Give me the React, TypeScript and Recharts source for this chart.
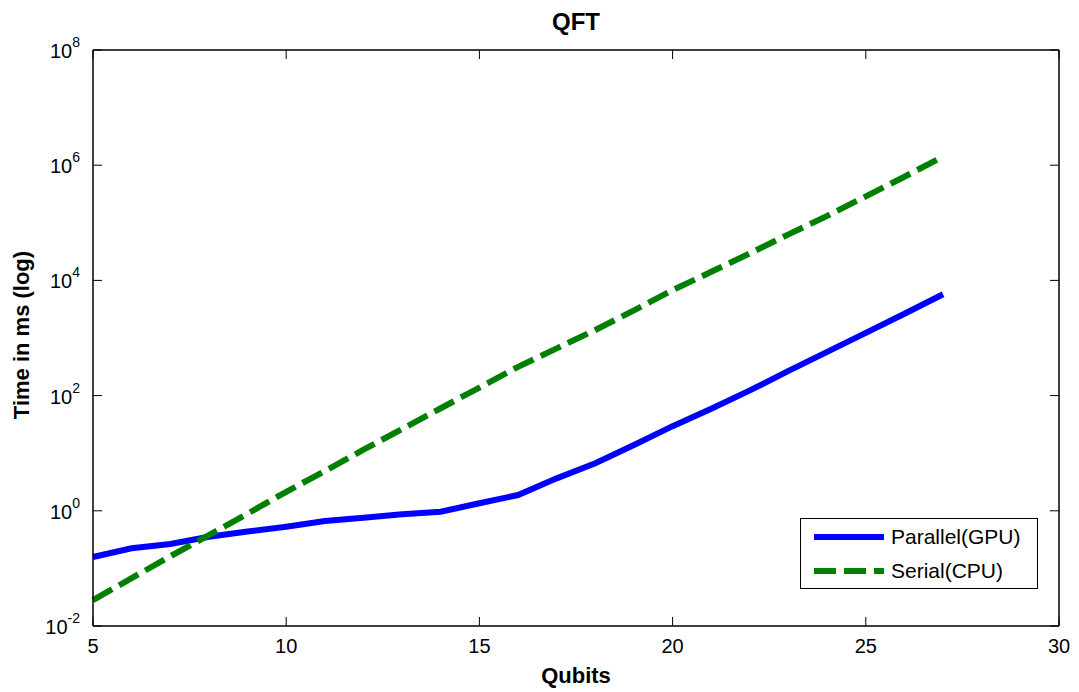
import React from 'react';
import { LineChart, Line, XAxis, YAxis } from 'recharts';

const qubits = [5, 6, 7, 8, 9, 10, 11, 12, 13, 14, 15, 16, 17, 18, 19, 20, 21, 22, 23, 24, 25, 26, 27];
const parallelMs = [0.158, 0.224, 0.265, 0.355, 0.437, 0.53, 0.665, 0.76, 0.87, 0.966, 1.35, 1.88, 3.66, 6.67, 13.9, 29.5, 59, 123, 269, 575, 1230, 2630, 5750];
const serialMs = [0.0282, 0.0676, 0.162, 0.38, 0.891, 2.14, 4.9, 11.5, 26.3, 60.3, 138, 316, 661, 1380, 3020, 6760, 14100, 29500, 63100, 131800, 288000, 631000, 1413000];
const xTicks = [5, 10, 15, 20, 25, 30];
const yTicks = [0.01, 1, 100, 10000, 1000000, 100000000];
const yExponents = ['-2', '0', '2', '4', '6', '8'];
const seriesNames = ['Parallel(GPU)', 'Serial(CPU)'];

const data = qubits.map((q, i) => ({ qubits: q, parallel: parallelMs[i], serial: serialMs[i] }));

const FONT = 'Arial, "Liberation Sans", Helvetica, sans-serif';

const BottomTick = (props: any) => {
  const { x, y, payload } = props;
  return (
    <g>
      <line x1={x} x2={x} y1={y - 8} y2={y - 17} stroke="#000" strokeWidth={1} />
      <text x={x} y={y + 19} textAnchor="middle" fontSize={20} fontFamily={FONT} fill="#000">
        {payload.value}
      </text>
    </g>
  );
};

const TopTick = (props: any) => {
  const { x, y } = props;
  return <line x1={x} x2={x} y1={y + 8} y2={y + 17} stroke="#000" strokeWidth={1} />;
};

const LeftTick = (props: any) => {
  const { x, y, index } = props;
  return (
    <g>
      <line x1={x + 8} x2={x + 17} y1={y} y2={y} stroke="#000" strokeWidth={1} />
      <text x={x - 5} y={y + 8} textAnchor="end" fontSize={20} fontFamily={FONT} fill="#000">
        <tspan>10</tspan>
        <tspan dy={-11} fontSize={14}>{yExponents[index]}</tspan>
      </text>
    </g>
  );
};

const RightTick = (props: any) => {
  const { x, y } = props;
  return <line x1={x - 8} x2={x - 17} y1={y} y2={y} stroke="#000" strokeWidth={1} />;
};

export default function App() {
  return (
    <div style={{ position: 'absolute', left: 0, top: 0, width: 1079, height: 692, background: '#fff' }}>
      <div
        style={{
          position: 'absolute',
          left: 0,
          width: 1152,
          top: 7,
          textAlign: 'center',
          fontFamily: FONT,
          fontWeight: 'bold',
          fontSize: 24,
          color: '#000',
          lineHeight: '30px',
        }}
      >
        QFT
      </div>
      <LineChart
        width={1079}
        height={692}
        data={data}
        margin={{ top: 49, right: 19, bottom: 26, left: 33 }}
      >
        <XAxis
          xAxisId="bottom"
          dataKey="qubits"
          type="number"
          domain={[5, 30]}
          ticks={xTicks}
          height={40}
          axisLine={{ stroke: '#000', strokeWidth: 1.5 }}
          tickLine={false}
          tick={<BottomTick />}
          interval={0}
          label={{
            content: (p: any) => (
              <text
                x={p.viewBox.x + p.viewBox.width / 2}
                y={p.viewBox.y + 57}
                textAnchor="middle"
                fontSize={22}
                fontWeight="bold"
                fontFamily={FONT}
                fill="#000"
              >
                Qubits
              </text>
            ),
          }}
        />
        <XAxis
          xAxisId="top"
          orientation="top"
          dataKey="qubits"
          type="number"
          domain={[5, 30]}
          ticks={xTicks}
          height={1}
          axisLine={{ stroke: '#000', strokeWidth: 1.5 }}
          tickLine={false}
          tick={<TopTick />}
          interval={0}
        />
        <YAxis
          yAxisId="left"
          scale="log"
          domain={[0.01, 100000000]}
          allowDataOverflow
          ticks={yTicks}
          width={60}
          axisLine={{ stroke: '#000', strokeWidth: 1.5 }}
          tickLine={false}
          tick={<LeftTick />}
          interval={0}
          label={{
            content: () => (
              <text
                x={29}
                y={335}
                transform="rotate(-90 29 335)"
                textAnchor="middle"
                fontSize={22}
                fontWeight="bold"
                fontFamily={FONT}
                fill="#000"
              >
                Time in ms (log)
              </text>
            ),
          }}
        />
        <YAxis
          yAxisId="right"
          orientation="right"
          scale="log"
          domain={[0.01, 100000000]}
          allowDataOverflow
          ticks={yTicks}
          width={1}
          axisLine={{ stroke: '#000', strokeWidth: 1.5 }}
          tickLine={false}
          tick={<RightTick />}
          interval={0}
        />
        <Line
          xAxisId="bottom"
          yAxisId="left"
          dataKey="parallel"
          name={seriesNames[0]}
          stroke="#0000FF"
          strokeWidth={6}
          dot={false}
          type="linear"
          isAnimationActive={false}
        />
        <Line
          xAxisId="bottom"
          yAxisId="left"
          dataKey="serial"
          name={seriesNames[1]}
          stroke="#008000"
          strokeWidth={6}
          strokeDasharray="22 8"
          dot={false}
          type="linear"
          isAnimationActive={false}
        />
      </LineChart>
      <div
        style={{
          position: 'absolute',
          left: 800,
          top: 518,
          width: 238,
          height: 71,
          border: '1px solid #000',
          background: '#fff',
          boxSizing: 'border-box',
        }}
      >
        <svg width={236} height={69} style={{ position: 'absolute', left: 0, top: 0 }}>
          <line x1={13} x2={83} y1={18} y2={18} stroke="#0000FF" strokeWidth={6} />
          <line x1={13} x2={83} y1={52} y2={52} stroke="#008000" strokeWidth={6} strokeDasharray="22 8" />
          <text x={90} y={25} fontSize={21} fontFamily={FONT} fill="#000">{seriesNames[0]}</text>
          <text x={90} y={59} fontSize={21} fontFamily={FONT} fill="#000">{seriesNames[1]}</text>
        </svg>
      </div>
    </div>
  );
}
